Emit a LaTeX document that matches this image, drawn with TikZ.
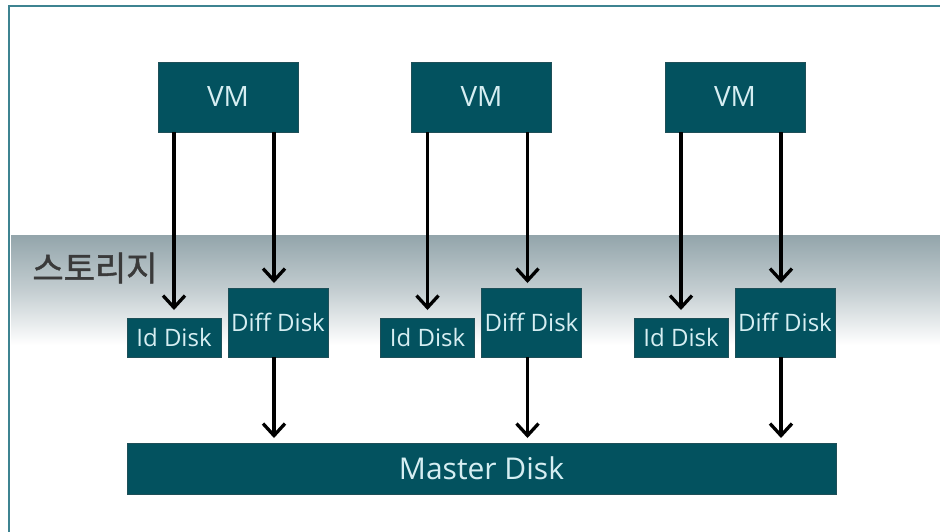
\documentclass[tikz,border=0pt]{standalone}
\usepackage{fontspec}
\setmainfont{Open Sans}
\newfontfamily\krfont[FakeBold=1.3]{Noto Sans CJK KR}
\usetikzlibrary{arrows.meta}
\definecolor{boxfill}{HTML}{03525F}
\definecolor{boxline}{HTML}{1E4F58}
\definecolor{boxtext}{HTML}{D6EEF2}
\definecolor{framecol}{HTML}{3E8391}
\definecolor{bandtop}{HTML}{93A5AB}
\definecolor{lbl}{HTML}{3A3A3A}
\tikzset{
  dbox/.style={fill=boxfill, draw=boxline, line width=0.8pt, inner sep=0pt, outer sep=0pt, text=boxtext, font=\fontsize{24}{28}\selectfont},
  vmbox/.style={dbox, minimum width=140pt, minimum height=70pt, font=\fontsize{28}{32}\selectfont},
  idbox/.style={dbox, minimum width=94pt, minimum height=39pt},
  diffbox/.style={dbox, minimum width=100pt, minimum height=69pt},
  masterbox/.style={dbox, minimum width=709pt, minimum height=51pt, font=\fontsize{30}{34}\selectfont},
  arr/.style={line width=3.3pt, black, -{Straight Barb[length=12pt, width=22pt, line width=3.3pt]}},
  storlabel/.style={text=lbl, font=\krfont\fontsize{34}{38}\selectfont, inner sep=0pt}
}
\begin{document}
\begin{tikzpicture}[x=1pt, y=-1pt]
\useasboundingbox (0,0) rectangle (940,531);
\fill[white] (0,0) rectangle (940,531);
% storage band
\shade[top color=bandtop, bottom color=white, middle color=bandtop!55!white] (11,235) rectangle (940,345);
% frame
\draw[framecol, line width=2pt] (9,560) -- (9,5.5) -- (960,5.5);
% label
\node[storlabel] (stor) at (95,268) {스토리지};
% VMs
\foreach \i/\dx in {1/0, 2/253.5, 3/507} {
  \node[vmbox] (vm\i) at (228+\dx,97) {VM};
  \node[idbox] (id\i) at (174+\dx,337.5) {Id Disk};
  \node[diffbox] (df\i) at (278+\dx,322.5) {Diff Disk};
}
\node[masterbox] (m) at (481.5,468.5) {Master Disk};
\foreach \i in {1,2,3} {
  \coordinate (dtop\i) at ([xshift=-4pt]df\i.north);
  \coordinate (dbot\i) at ([xshift=-4pt]df\i.south);
  \draw[arr] (id\i.north |- vm\i.south) -- ([yshift=8pt]id\i.north);
  \draw[arr] (dtop\i |- vm\i.south) -- ([yshift=5pt]dtop\i);
  \draw[arr] (dbot\i) -- ([yshift=5pt]m.north -| dbot\i);
}
\end{tikzpicture}
\end{document}
